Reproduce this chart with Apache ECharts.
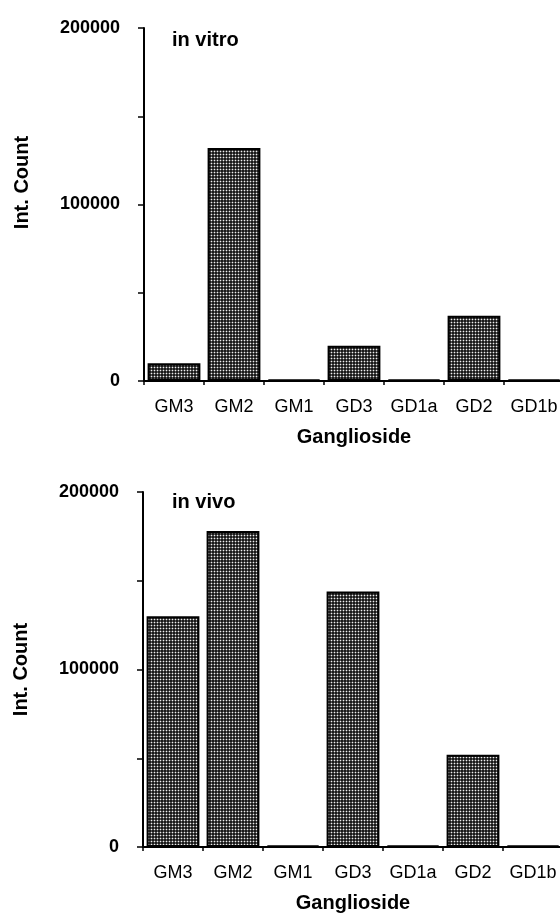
<!DOCTYPE html>
<html>
<head>
<meta charset="utf-8">
<script src="https://cdn.jsdelivr.net/npm/echarts@6/dist/echarts.min.js"></script>
<style>
  html, body { margin: 0; padding: 0; background: #fff; }
  #main { width: 560px; height: 918px; }
</style>
</head>
<body>
<div id="main"></div>
<script>
var categories = ['GM3', 'GM2', 'GM1', 'GD3', 'GD1a', 'GD2', 'GD1b']
var inVitro = [10000, 132000, 800, 20000, 800, 37000, 800]
var inVivo = [130000, 178000, 800, 144000, 800, 52000, 800]
var yTicks = [0, 100000, 200000]

var font = '"Liberation Sans", Arial, Helvetica, sans-serif'

// halftone dot fill like the scanned bars
function makePattern() {
    var c = document.createElement('canvas')
    c.width = 3
    c.height = 3
    var ctx = c.getContext('2d')
    ctx.fillStyle = '#1a1a1a'
    ctx.fillRect(0, 0, 3, 3)
    ctx.fillStyle = '#555'
    ctx.fillRect(1, 0, 1, 3)
    ctx.fillRect(0, 1, 3, 1)
    ctx.fillStyle = '#eee'
    ctx.fillRect(1, 1, 1, 1)
    return c
}
var pattern = makePattern()

function xAxisFor(idx) {
    return {
        type: 'category',
        gridIndex: idx,
        data: categories,
        boundaryGap: true,
        name: 'Ganglioside',
        nameLocation: 'middle',
        nameGap: 46,
        nameTextStyle: { color: '#000', fontSize: 20, fontWeight: 'bold', fontFamily: font },
        axisLine: { lineStyle: { color: '#000', width: 2 } },
        axisTick: { show: true, length: 4, lineStyle: { color: '#000', width: 1.5 } },
        axisLabel: { color: '#000', fontSize: 18, fontFamily: font, margin: 17, interval: 0 }
    }
}

function yAxisFor(idx, namePad) {
    return {
        type: 'value',
        gridIndex: idx,
        min: 0,
        max: 200000,
        interval: 50000,
        name: 'Int. Count',
        nameLocation: 'middle',
        nameRotate: 90,
        nameGap: 112,
        nameTextStyle: { color: '#000', fontSize: 20, fontWeight: 'bold', fontFamily: font, padding: namePad },
        splitLine: { show: false },
        axisLine: { show: true, lineStyle: { color: '#000', width: 2 } },
        axisTick: { show: true, length: 6, lineStyle: { color: '#000', width: 1.5 } },
        axisLabel: {
            color: '#000', fontSize: 18, fontWeight: 'bold', fontFamily: font, margin: 24,
            padding: [0, 0, 6, 0],
            formatter: function (v) {
                return yTicks.indexOf(v) >= 0 ? String(v) : ''
            }
        }
    }
}

function barSeries(idx, values) {
    return {
        type: 'bar',
        xAxisIndex: idx,
        yAxisIndex: idx,
        data: values,
        barCategoryGap: '12%',
        itemStyle: {
            color: { image: pattern, repeat: 'repeat' },
            borderColor: '#000',
            borderWidth: 2
        },
        emphasis: { disabled: true }
    }
}

var myChart = echarts.init(document.getElementById('main'), null, { renderer: 'canvas' })

var option = {
    backgroundColor: '#fff',
    animation: false,
    title: [
        { text: 'in vitro', left: 172, top: 30, padding: 0,
          textStyle: { color: '#000', fontSize: 20, fontWeight: 'bold', fontFamily: font } },
        { text: 'in vivo', left: 172, top: 492, padding: 0,
          textStyle: { color: '#000', fontSize: 20, fontWeight: 'bold', fontFamily: font } }
    ],
    grid: [
        { left: 144, top: 28, width: 420, height: 353, containLabel: false, outerBoundsMode: 'none' },
        { left: 143, top: 492, width: 420, height: 355, containLabel: false, outerBoundsMode: 'none' }
    ],
    xAxis: [xAxisFor(0), xAxisFor(1)],
    yAxis: [yAxisFor(0, [0, 0, 0, 44]), yAxisFor(1, 0)],
    series: [barSeries(0, inVitro), barSeries(1, inVivo)]
}

myChart.setOption(option)
</script>
</body>
</html>
